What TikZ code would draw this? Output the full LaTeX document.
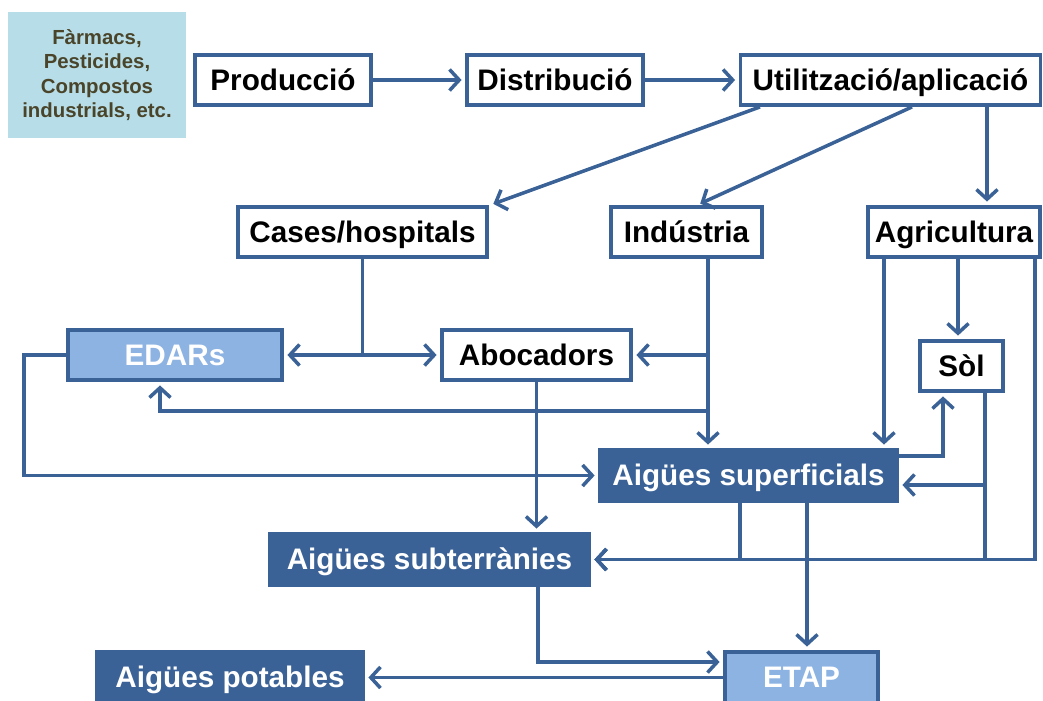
\documentclass[tikz,border=0pt]{standalone}
\usepackage{fontspec}
\setmainfont{Liberation Sans}
\usepackage{tikz}
\usetikzlibrary{arrows.meta}
\usetikzlibrary{positioning}

\definecolor{dblue}{RGB}{58,98,150}
\definecolor{lblue}{RGB}{141,179,226}
\definecolor{aqua}{RGB}{183,222,232}
\definecolor{olive}{RGB}{74,69,42}

\begin{document}
\begin{tikzpicture}
		[x=0.02cm,y=-0.02cm,
		every node/.style={inner sep=0pt,font=\fontsize{16.9}{19}\selectfont\bfseries},
		box/.style={line width=2.2pt,text height=12pt,text depth=0.5pt},
		wbox/.style={box,draw=dblue,fill=white,text=black},
		lbox/.style={box,draw=dblue,fill=lblue,text=white},
		dbox/.style={box,draw=dblue,fill=dblue,text=white},
		flow/.style={draw=dblue,line width=2pt,->,shorten >=2pt},
		>={Straight Barb[length=5.5pt,width=12pt]}]
		\clip (0,0) rectangle (1043,700);
		\node[fill=aqua,text=olive,align=center,minimum width=3.56cm,minimum height=2.52cm,
		      font=\fontsize{11.6}{13.9}\selectfont\bfseries] (farm) at (97,75)
		      {Fàrmacs,\\Pesticides,\\Compostos\\industrials, etc.};
		\node[wbox,minimum width=3.52cm,minimum height=1.0cm] (prod) at (283,80) {Producció};
		\node[wbox,minimum width=3.52cm,minimum height=1.0cm] (dist) at (555,80) {Distribució};
		\node[wbox,minimum width=6.0cm,minimum height=1.0cm] (util) at (890.5,80) {Utilització/aplicació};
		\node[wbox,minimum width=4.98cm,minimum height=1.0cm] (cases) at (362.5,232) {Cases/hospitals};
		\node[wbox,minimum width=3.02cm,minimum height=1.0cm] (ind) at (686.5,232) {Indústria};
		\node[wbox,minimum width=3.44cm,minimum height=1.0cm] (agri) at (954,232) {Agricultura};
		\node[lbox,minimum width=4.28cm,minimum height=1.0cm] (edars) at (175,355) {EDARs};
		\node[wbox,minimum width=3.78cm,minimum height=1.0cm] (aboc) at (536.5,355) {Abocadors};
		\node[wbox,minimum width=1.66cm,minimum height=1.0cm] (sol) at (961.5,366) {Sòl};
		\node[dbox,minimum width=5.94cm,minimum height=1.02cm] (sup) at (748.5,475.5) {Aigües superficials};
		\node[dbox,minimum width=6.38cm,minimum height=1.02cm] (subt) at (429.5,559.5) {Aigües subterrànies};
		\node[dbox,minimum width=5.32cm,minimum height=1.02cm] (pot) at (230,677.5) {Aigües potables};
		\node[lbox,minimum width=3.06cm,minimum height=1.02cm] (etap) at (801.5,677.5) {ETAP};

		\foreach \from/\to in
		{prod/dist, dist/util, etap/pot}
		\draw[flow] (\from) -- (\to);

		% from use to sources
		\draw[flow] (util.south -| 760,0) -- (cases.north -| 490,0);
		\draw[flow] (util.south -| 912,0) -- (ind.north -| 697,0);
		\draw[flow] (util.south -| 987,0) -- (agri.north -| 987,0);

		% cases/hospitals
		\draw[flow] (cases.south) |- (edars.east);
		\draw[flow] (cases.south) |- (aboc.west);

		% industria
		\draw[flow] (ind.south -| 708,0) -- (sup.north -| 708,0);
		\draw[flow] (ind.south -| 708,0) |- (aboc.east);
		\draw[flow] (ind.south -| 708,0) |- (160,411) -- (edars.south -| 160,0);

		\draw[flow] (edars.west) -- ++(-42,0) |- (sup.west);
		\draw[flow] (aboc.south) -- (subt.north -| aboc.south);

		% agricultura
		\draw[flow] (agri.south -| 884,0) -- (sup.north -| 884,0);
		\draw[flow] (agri.south -| 958,0) -- (sol.north -| 958,0);
		\draw[flow] (agri.south -| 1035,0) |- (subt.east);

		% aigues
		\draw[flow] (sup.east |- 0,456) -| (sol.south -| 943,0);
		\draw[flow] (sol.south -| 985,0) |- (subt.east);
		\draw[flow] (sol.south -| 985,0) |- (sup.east |- 0,485);
		\draw[flow] (sup.south -| 740,0) |- (subt.east);
		\draw[flow] (sup.south -| 807,0) -- (etap.north -| 807,0);
		\draw[flow] (subt.south -| 538,0) |- (etap.west |- 0,662);
\end{tikzpicture}
\end{document}
